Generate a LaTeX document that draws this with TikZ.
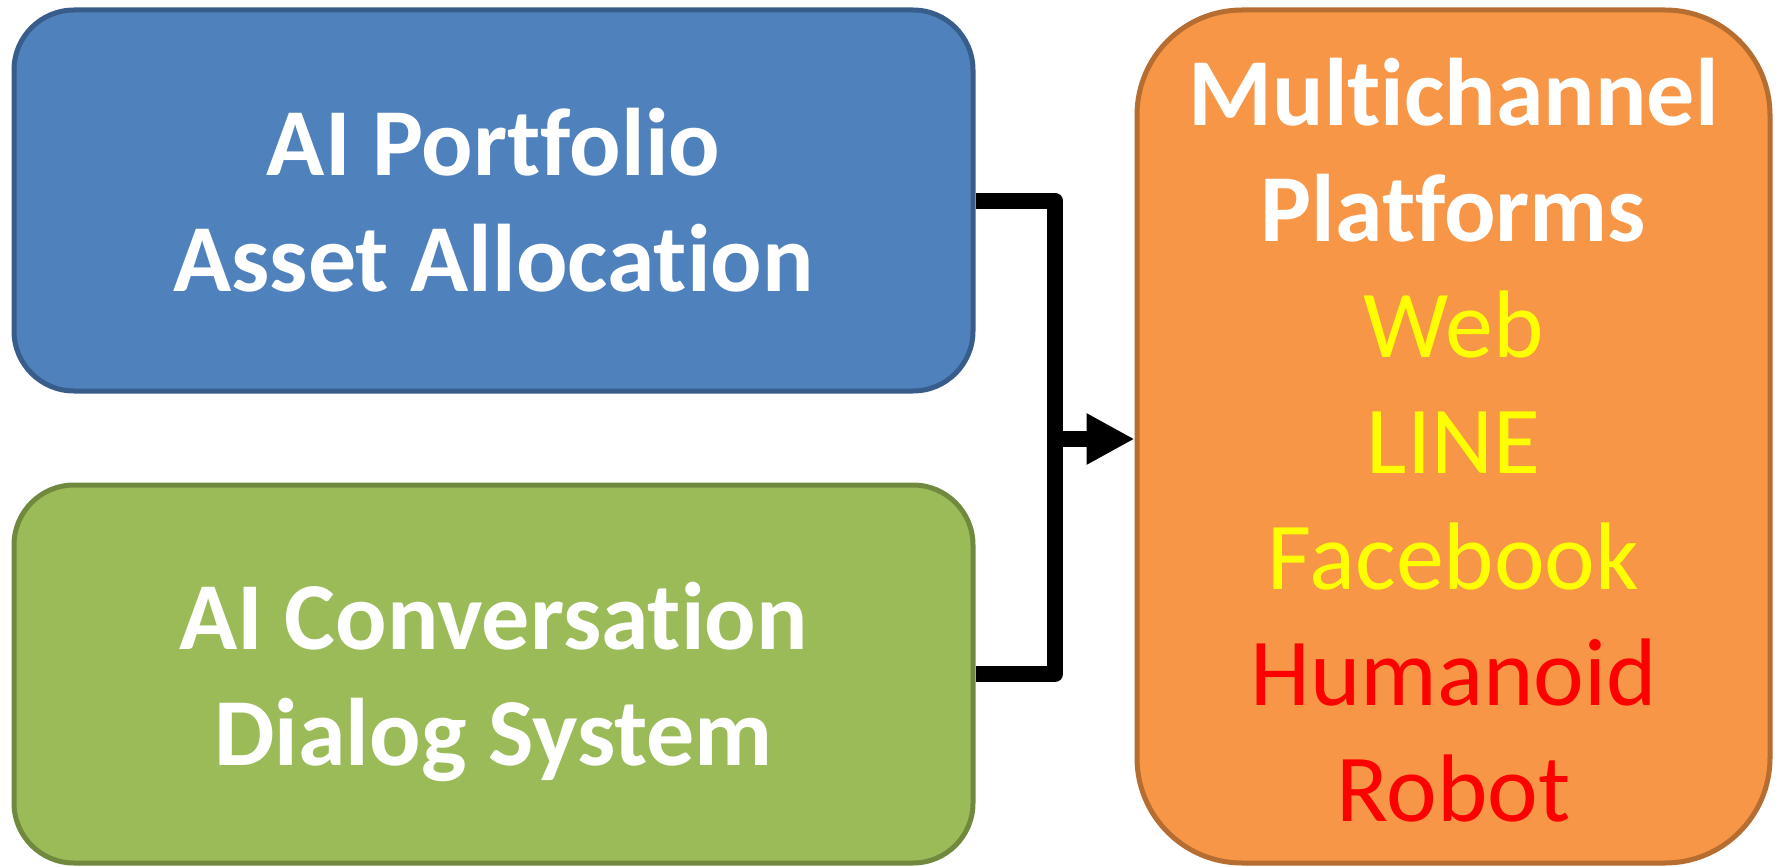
\documentclass[tikz,border=0pt]{standalone}
\usepackage{fontspec}
\setmainfont{Carlito}[RawFeature={-liga;-clig;-dlig}]
\usetikzlibrary{arrows.meta}
\definecolor{bluefill}{HTML}{4F81BD}
\definecolor{blueline}{HTML}{385D8A}
\definecolor{greenfill}{HTML}{9BBB59}
\definecolor{greenline}{HTML}{71893F}
\definecolor{orangefill}{HTML}{F79646}
\definecolor{orangeline}{HTML}{B66D31}
\definecolor{txtyellow}{HTML}{FFFF00}
\definecolor{txtred}{HTML}{FF0000}
\begin{document}
\begin{tikzpicture}[x=1pt,y=-1pt,
  box/.style={line width=5pt, inner sep=0pt},
  label text/.style={align=center, inner sep=0pt, text=white,
    font=\fontsize{96pt}{116pt}\selectfont},
  connector/.style={line width=16pt, line join=round}]
\useasboundingbox (0,0) rectangle (1781,867);
\node[box, draw=blueline, fill=bluefill, rounded corners=60pt,
  minimum width=959pt, minimum height=381pt] (blue) at (493.5,200.5) {};
\node[label text] (bluetext) at (493.5,200.5)
  {\bfseries AI Portfolio\\\bfseries Asset Allocation};
\node[box, draw=greenline, fill=greenfill, rounded corners=60pt,
  minimum width=959pt, minimum height=378pt] (green) at (493.5,674) {};
\node[label text] (greentext) at (493.5,682)
  {\bfseries AI Conversation\\\bfseries Dialog System};
\node[box, draw=orangeline, fill=orangefill, rounded corners=105pt,
  minimum width=633pt, minimum height=853pt] (orange) at (1453.5,436.5) {};
\node[label text] (orangetext) at (1453.5,440)
  {\bfseries Multichannel\\\bfseries Platforms\\
   \textcolor{txtyellow}{Web}\\\textcolor{txtyellow}{LINE}\\\textcolor{txtyellow}{Facebook}\\
   \textcolor{txtred}{Humanoid}\\\textcolor{txtred}{Robot}};
\coordinate (j) at (1055,439);
\draw[connector] (blue.east) -| (j) |- (green.east);
\draw[connector, -{Triangle[length=48pt,width=48pt]}] (j) -- (j -| orange.west);
\end{tikzpicture}
\end{document}
